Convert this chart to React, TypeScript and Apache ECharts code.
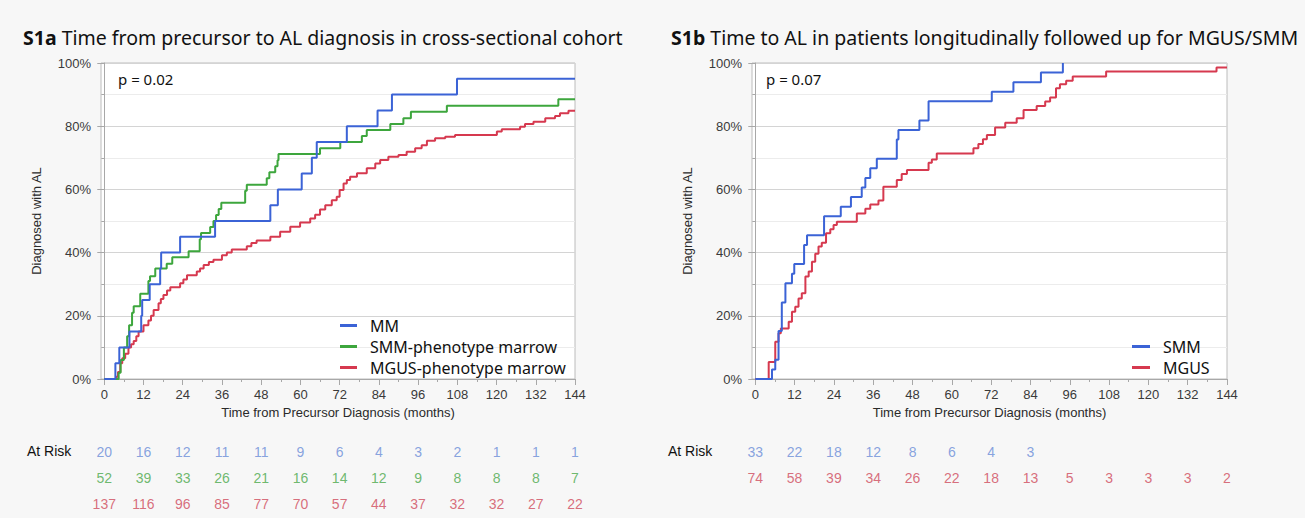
import React, { useEffect, useRef } from "react";
import * as echarts from "echarts";

// ---------- Data ----------
// S1a: cumulative % diagnosed with AL, step points [month, %]
const mmTimes = [0, 3.4, 4.6, 7.7, 11.3, 11.6, 13.9, 17.1, 17.4, 23.2, 33.9, 50.8, 53.1, 60.4, 63.5, 65, 74.2, 83.6, 88, 107.9, 144];
const mmValues = [0, 5, 10, 15, 20, 25, 30, 35, 40, 45, 50, 55, 60, 65, 70, 75, 80, 85, 90, 95, 95];

const smmTimes = [0, 4.4, 5, 6, 7, 7.6, 8.5, 9, 11, 13.5, 14, 15.6, 19.1, 20.8, 25.8, 29.2, 29.6, 32.4, 33.4, 34.2, 35, 35.8, 43.1, 43.6, 49.7, 50.5, 52.3, 53, 53.3, 66, 72.2, 78.8, 80.3, 87.5, 91.5, 93.8, 104.8, 138.9, 144];
const smmValues = [0, 2, 6, 10, 13.5, 17, 21, 23, 27, 31, 32.5, 35, 36.5, 38.5, 40.4, 44.2, 46.2, 48.1, 50, 51.9, 53.8, 55.8, 59.6, 61.5, 63.5, 65.4, 67.3, 69.2, 71.2, 73, 75, 76.9, 78.8, 80.7, 82.5, 84.6, 86.5, 88.5, 88.5];

const mgusTimes = [0, 3.6, 4.2, 4.9, 5.5, 6.4, 7.4, 8.2, 9, 9.8, 10.5, 12, 13.5, 14.3, 15.1, 16.6, 17.3, 18.1, 19.2, 20.2, 23.2, 24.2, 25.3, 28.3, 29.3, 30.4, 32, 33.4, 36, 37.5, 39, 43.6, 45, 46.6, 50.8, 53.8, 56.9, 59.9, 63, 64.5, 66, 67.6, 69.6, 71.1, 72, 73.2, 74.2, 75.2, 77.3, 80.3, 82.9, 84.4, 86.9, 90, 92.5, 95.1, 97.1, 98.7, 101.2, 104.3, 107.3, 120.1, 121.6, 127.2, 128.7, 131.3, 134.9, 137.9, 139.4, 142, 144];
const mgusValues = [0, 0.7, 2.2, 5, 6.6, 8, 10, 11, 12, 13.5, 15, 17, 18.5, 20, 21.8, 24, 25.3, 26.6, 28, 29, 30.3, 31.5, 32.8, 34, 35, 36.1, 37, 37.7, 39.2, 40, 41, 42, 43, 43.8, 45, 46.6, 48.2, 49.5, 50.8, 52, 53.6, 55, 56.6, 57.7, 59.8, 61.9, 63, 64, 65.1, 66.7, 68.2, 69.3, 70.3, 70.9, 71.9, 73, 74, 75.4, 76.2, 76.7, 77.2, 78.3, 79, 79.8, 80.7, 81.4, 82.5, 83.2, 84.1, 84.9, 84.9];

// S1b
const bSmmTimes = [0, 5.1, 6.1, 7.1, 8.1, 9.2, 11.2, 11.9, 14.9, 15.8, 21, 26.1, 29.2, 32.5, 33.6, 35.1, 37.1, 43.2, 43.7, 50.1, 52.9, 72.2, 78.8, 87.2, 93.9];
const bSmmValues = [0, 3, 6.1, 15.2, 24.2, 30.3, 33.3, 36.4, 42.4, 45.5, 51.5, 54.5, 57.6, 60.6, 63.6, 66.7, 69.7, 75.8, 78.8, 81.8, 87.9, 90.9, 93.9, 97, 100];

const bMgusTimes = [0, 4.1, 6.1, 7.1, 7.8, 10.2, 11.2, 12.2, 13.2, 14.2, 15.3, 16.3, 17.3, 18.3, 19.3, 20.3, 21.6, 22.9, 23.9, 24.9, 31, 33.6, 35.1, 37.6, 39.1, 43.2, 44.7, 46.3, 52.9, 53.9, 55.4, 66.6, 68.1, 69.5, 70.7, 73.2, 76.3, 79.8, 81.9, 85.9, 88.5, 90, 91.8, 93, 94.9, 96.9, 107.1, 140.8, 144];
const bMgusValues = [0, 5.4, 11.8, 14.5, 16, 18.1, 21.3, 22.9, 25.5, 27.1, 32.4, 34, 37.1, 39.6, 41.9, 43.1, 46.1, 47.4, 48.7, 49.8, 52.4, 53.9, 55.2, 56.5, 60.8, 63, 64.9, 66.1, 68.4, 69.5, 71.4, 73, 74.4, 75.9, 77.2, 79.6, 81.1, 82.5, 85.1, 86.4, 87.8, 89.1, 92, 93.3, 94.4, 95.7, 97.3, 98.6, 98.6];

// At-risk tables (columns at months 0,12,...,144)
const riskMonths = [0, 12, 24, 36, 48, 60, 72, 84, 96, 108, 120, 132, 144];
const riskA_MM = [20, 16, 12, 11, 11, 9, 6, 4, 3, 2, 1, 1, 1];
const riskA_SMM = [52, 39, 33, 26, 21, 16, 14, 12, 9, 8, 8, 8, 7];
const riskA_MGUS = [137, 116, 96, 85, 77, 70, 57, 44, 37, 32, 32, 27, 22];
const riskB_SMM = [33, 22, 18, 12, 8, 6, 4, 3];
const riskB_MGUS = [74, 58, 39, 34, 26, 22, 18, 13, 5, 3, 3, 3, 2];

const xLabelTicks = [0, 12, 24, 36, 48, 60, 72, 84, 96, 108, 120, 132, 144];
const xMinorTicks = [0, 6, 12, 18, 24, 30, 36, 42, 48, 54, 60, 66, 72, 78, 84, 90, 96, 102, 108, 114, 120, 126, 132, 138, 144];

const titleA = "Time from precursor to AL diagnosis in cross-sectional cohort";
const titleB = "Time to AL in patients longitudinally followed up for MGUS/SMM";
const xName = "Time from Precursor Diagnosis (months)";
const yName = "Diagnosed with AL";

// ---------- Style ----------
const BLUE = "#3b63d6";
const GREEN = "#3da63d";
const RED = "#d6394f";
const BLUE_T = "#6a8cd8";
const GREEN_T = "#4aa84a";
const RED_T = "#cf4a5c";
const FONT = "'Noto Sans', 'Open Sans', sans-serif";
const AXFONT = "'Liberation Sans', Arial, sans-serif";

const zip = (t: number[], v: number[]) => t.map((x, i) => [x, v[i]]);

export default function App() {
  const ref = useRef<HTMLDivElement>(null);
  useEffect(() => {
    if (!ref.current) return;
    const chart = echarts.init(ref.current, undefined, { renderer: "svg" });

    const plotLeftA = 101, plotLeftB = 752, plotW = 474, plotTop = 63, plotH = 316;

    const xMinorAxis = (gi: number) => ({
      type: "value", gridIndex: gi, min: -1, max: 144, position: "bottom",
      axisLine: { show: true, lineStyle: { color: "#a8a8a8", width: 1 } },
      axisTick: { show: true, customValues: xMinorTicks, length: 3, lineStyle: { color: "#a8a8a8" } },
      axisLabel: { show: false }, splitLine: { show: false },
    });
    const xMajorAxis = (gi: number) => ({
      type: "value", gridIndex: gi, min: -1, max: 144, position: "bottom",
      axisLine: { show: false },
      axisTick: { show: true, customValues: xLabelTicks, length: 6, lineStyle: { color: "#a8a8a8" } },
      axisLabel: { show: true, customValues: xLabelTicks, margin: 9, fontSize: 13, color: "#3a3a3a", fontFamily: AXFONT },
      splitLine: { show: false },
      name: xName, nameLocation: "middle", nameGap: 27,
      nameTextStyle: { fontSize: 13, color: "#2a2a2a", fontFamily: AXFONT },
    });
    const yPlotAxis = (gi: number) => ({
      type: "value", gridIndex: gi, min: 0, max: 100, interval: 20,
      axisLine: { show: true, lineStyle: { color: "#a8a8a8" } },
      axisTick: { show: true, length: 7, lineStyle: { color: "#a8a8a8" } },
      minorTick: { show: true, splitNumber: 2, length: 3, lineStyle: { color: "#a8a8a8" } },
      axisLabel: { formatter: "{value}%", margin: 10, fontSize: 13, color: "#3a3a3a", fontFamily: AXFONT },
      splitLine: { show: true, lineStyle: { color: "#d4d4d4", width: 1 } },
      minorSplitLine: { show: true, lineStyle: { color: "#ececec", width: 1 } },
      name: yName, nameLocation: "middle", nameGap: 58,
      nameTextStyle: { fontSize: 13, color: "#2a2a2a", fontFamily: AXFONT },
    });
    const hiddenX = (gi: number) => ({ type: "value", gridIndex: gi, min: -1, max: 144, show: false });
    const hiddenY = (gi: number) => ({ type: "value", gridIndex: gi, min: 0, max: 2, inverse: true, show: false });

    const km = (name: string, color: string, data: number[][], xi: number, yi: number, z: number) => ({
      type: "line", name, data, step: "end", showSymbol: false, symbol: "none",
      xAxisIndex: xi, yAxisIndex: yi, z,
      lineStyle: { color, width: 2 }, itemStyle: { color },
    });
    const risk = (vals: number[], row: number, color: string, xi: number, yi: number) => ({
      type: "scatter", data: vals.map((v, i) => [riskMonths[i], row, v]),
      xAxisIndex: xi, yAxisIndex: yi, symbolSize: 0, silent: true,
      label: {
        show: true, position: "inside", formatter: (p: any) => String(p.value[2]),
        color, fontSize: 14, fontFamily: AXFONT,
      },
    });

    const titleStyle = {
      fontSize: 19.5, fontWeight: "normal", color: "#111", fontFamily: FONT,
      rich: { b: { fontSize: 19.5, fontWeight: "bold", color: "#111", fontFamily: FONT } },
    };

    const option: any = {
      animation: false,
      backgroundColor: "#f7f7f7",
      title: [
        { left: 18, top: 22, text: "{b|S1a} " + titleA, textStyle: titleStyle },
        { left: 666, top: 22, text: "{b|S1b} " + titleB, textStyle: titleStyle },
      ],
      legend: [
        {
          data: ["MM", "SMM-phenotype marrow", "MGUS-phenotype marrow"],
          orient: "vertical", left: 335, top: 310, itemWidth: 17, itemHeight: 3, icon: "rect", itemGap: 0,
          textStyle: { fontSize: 16, lineHeight: 21, color: "#111", fontFamily: FONT, padding: [0, 0, 0, 8] },
          selectedMode: false,
        },
        {
          data: ["SMM", "MGUS"],
          orient: "vertical", left: 1127, top: 331, itemWidth: 18, itemHeight: 3, icon: "rect", itemGap: 0,
          textStyle: { fontSize: 16, lineHeight: 21, color: "#111", fontFamily: FONT, padding: [0, 0, 0, 8] },
          selectedMode: false,
        },
      ],
      grid: [
        { left: plotLeftA, top: plotTop, width: plotW, height: plotH, show: true, backgroundColor: "#ffffff", borderColor: "#bcbcbc", borderWidth: 1 },
        { left: plotLeftB, top: plotTop, width: plotW + 1, height: plotH, show: true, backgroundColor: "#ffffff", borderColor: "#bcbcbc", borderWidth: 1 },
        { left: plotLeftA, top: 452, width: plotW, height: 52 },
        { left: plotLeftB, top: 452, width: plotW + 1, height: 52 },
      ],
      xAxis: [xMinorAxis(0), xMajorAxis(0), xMinorAxis(1), xMajorAxis(1), hiddenX(2), hiddenX(3)],
      yAxis: [yPlotAxis(0), yPlotAxis(1), hiddenY(2), hiddenY(3)],
      graphic: [
        { type: "text", left: 118, top: 71, style: { text: "p = 0.02", fontSize: 15, fill: "#111", fontFamily: FONT } },
        { type: "text", left: 766, top: 71, style: { text: "p = 0.07", fontSize: 15, fill: "#111", fontFamily: FONT } },
        { type: "text", left: 27, top: 444, style: { text: "At Risk", fontSize: 14, fill: "#111", fontFamily: AXFONT } },
        { type: "text", left: 668, top: 444, style: { text: "At Risk", fontSize: 14, fill: "#111", fontFamily: AXFONT } },
      ],
      series: [
        km("MGUS-phenotype marrow", RED, zip(mgusTimes, mgusValues), 0, 0, 2),
        km("SMM-phenotype marrow", GREEN, zip(smmTimes, smmValues), 0, 0, 3),
        km("MM", BLUE, zip(mmTimes, mmValues), 0, 0, 4),
        km("MGUS", RED, zip(bMgusTimes, bMgusValues), 2, 1, 2),
        km("SMM", BLUE, zip(bSmmTimes, bSmmValues), 2, 1, 3),
        risk(riskA_MM, 0, BLUE_T, 4, 2),
        risk(riskA_SMM, 1, GREEN_T, 4, 2),
        risk(riskA_MGUS, 2, RED_T, 4, 2),
        risk(riskB_SMM, 0, BLUE_T, 5, 3),
        risk(riskB_MGUS, 1, RED_T, 5, 3),
      ],
    };
    chart.setOption(option);
    return () => chart.dispose();
  }, []);

  return (
    <div
      ref={ref}
      style={{ position: "fixed", left: 0, top: 0, width: 1305, height: 518 }}
    />
  );
}
